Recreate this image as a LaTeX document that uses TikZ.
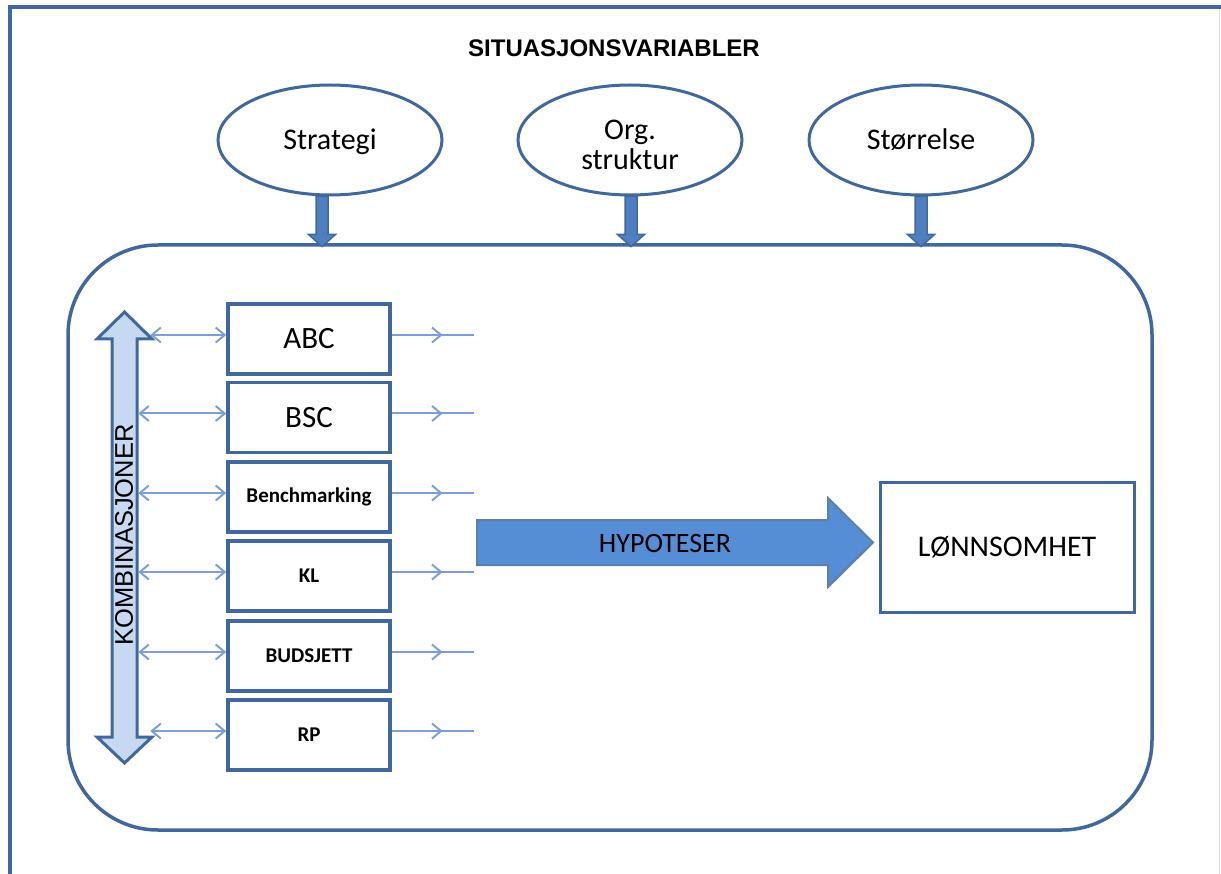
\documentclass[tikz,border=0pt]{standalone}
\usepackage{fontspec}
\setmainfont{Carlito}
\newfontfamily\arialf{Liberation Sans}
\usetikzlibrary{calc,arrows.meta,decorations.markings,shapes.geometric}

\definecolor{dblue}{HTML}{40689C}
\definecolor{lblue}{HTML}{7CA0D6}
\definecolor{hfill}{HTML}{558ED5}
\definecolor{afill}{HTML}{4F7FBE}
\definecolor{kfill}{HTML}{C6D9F1}

\begin{document}
\begin{tikzpicture}[x=1pt,y=-1pt,
  oval/.style={ellipse, draw=dblue, line width=3pt, minimum width=224pt, minimum height=110pt,
    inner sep=0pt, font=\fontsize{30}{30}\selectfont},
  mbox/.style={rectangle, draw=dblue, line width=3.5pt, minimum width=162pt, minimum height=70pt,
    inner sep=0pt},
  bigtxt/.style={font=\fontsize{31}{31}\selectfont},
  smalltxt/.style={font=\bfseries\fontsize{21}{21}\selectfont},
  larr/.style={draw=lblue, line width=2pt,
    {Straight Barb[length=9pt,width=15pt]}-{Straight Barb[length=9pt,width=15pt]}},
  rarr/.style={draw=lblue, line width=2pt, postaction={decorate},
    decoration={markings, mark=at position 0.62 with {\arrow{Straight Barb[length=9pt,width=15pt]}}}},
  downblk/.pic={\filldraw[fill=afill, draw=dblue, line width=1.5pt, line join=miter]
    (-6,0) -- (6,0) -- (6,38) -- (13.5,38) -- (0,50) -- (-13.5,38) -- (-6,38) -- cycle;}
]
\useasboundingbox (0,0) rectangle (1221,874);

% outer frame
\draw[dblue, line width=4pt] (10,876) -- (10,7) -- (1221,7);
\draw[black!12, line width=1pt] (1219,9) -- (1219,874);

% title
\node[font=\arialf\bfseries\fontsize{24}{24}\selectfont] (title) at (614,48) {SITUASJONSVARIABLER};

% situational variables
\node[oval, text height=20pt, text depth=0pt] (strat) at (330,140) {Strategi};
\node[oval, text height=10pt, text depth=10pt] (org) at (630,140)
  {\begin{tabular}[t]{@{}c@{}}Org.\\struktur\end{tabular}};
\node[oval, text height=20pt, text depth=0pt] (stor) at (921,140) {Størrelse};

% big rounded container
\node[rectangle, draw=dblue, line width=3.5pt, rounded corners=90pt,
  minimum width=1084pt, minimum height=585pt, inner sep=0pt] (big) at (610,537.5) {};

% down arrows
\pic at ($(strat.south)+(-8,0)$) {downblk};
\pic at ($(org.south)+(1,0)$) {downblk};
\pic at ($(stor.south)+(0,0)$) {downblk};

% boxes
\node[mbox, bigtxt] (abc) at (309,339) {ABC};
\node[mbox, bigtxt] (bsc) at (309,417.5) {BSC};
\node[mbox, smalltxt] (bench) at (309,497) {Benchmarking};
\node[mbox, smalltxt] (kl) at (309,576) {KL};
\node[mbox, smalltxt] (bud) at (309,656) {BUDSJETT};
\node[mbox, smalltxt] (rp) at (309,735) {RP};

% KOMBINASJONER double arrow
\filldraw[fill=kfill, draw=dblue, line width=3pt, line join=miter]
  (124.5,312) -- (152,339) -- (137,339) -- (137,737) -- (152,737) -- (124.5,763)
  -- (97,737) -- (112,737) -- (112,339) -- (97,339) -- cycle;
\node[rotate=90, font=\arialf\fontsize{25.5}{25.5}\selectfont] (komb) at (124,535) {KOMBINASJONER};

% left double arrows
\draw[larr] ($(abc.west)+(-76,-4)$) -- ($(abc.west)+(0,-4)$);
\draw[larr] ($(bsc.west)+(-88,-4)$) -- ($(bsc.west)+(0,-4)$);
\draw[larr] ($(bench.west)+(-88,-4)$) -- ($(bench.west)+(0,-4)$);
\draw[larr] ($(kl.west)+(-88,-4)$) -- ($(kl.west)+(0,-4)$);
\draw[larr] ($(bud.west)+(-88,-4)$) -- ($(bud.west)+(0,-4)$);
\draw[larr] ($(rp.west)+(-76,-4)$) -- ($(rp.west)+(0,-4)$);

% right arrows
\foreach \b in {abc,bsc,bench,kl,bud,rp}{
  \draw[rarr] ($(\b.east)+(0,-4)$) -- ++(82,0);
}

% LØNNSOMHET
\node[rectangle, draw=dblue, line width=3pt, minimum width=254pt, minimum height=130pt,
  font=\fontsize{30}{30}\selectfont] (lonn) at (1007,547) {LØNNSOMHET};

% HYPOTESER arrow
\filldraw[fill=hfill, draw=dblue!85, line width=2pt, line join=miter]
  (477,520) -- (828,520) -- (828,498) -- (873,542.5) -- (828,587) -- (828,565) -- (477,565) -- cycle;
\node[font=\fontsize{28}{28}\selectfont] (hyp) at (665,544) {HYPOTESER};

\end{tikzpicture}
\end{document}
